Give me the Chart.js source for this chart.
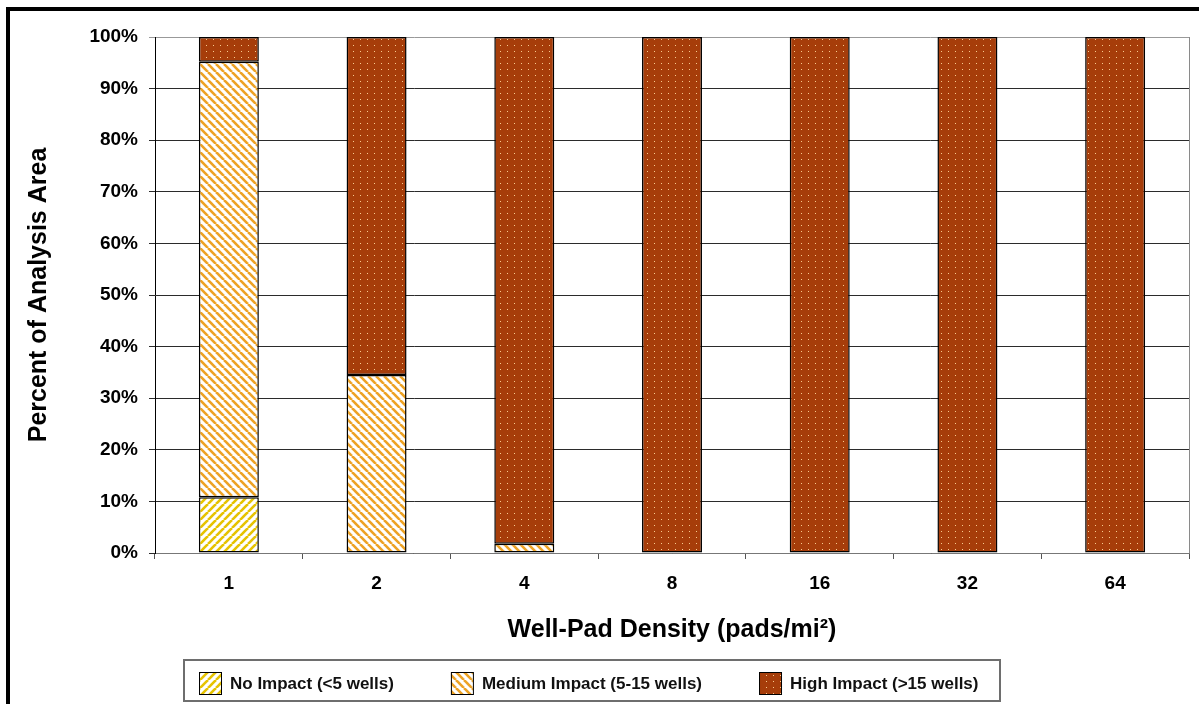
<!DOCTYPE html>
<html>
<head>
<meta charset="utf-8">
<script src="https://cdn.jsdelivr.net/npm/chart.js@4.4.1/dist/chart.umd.min.js"></script>
<style>
    html, body { margin: 0; padding: 0; background: #fff; }
    #wrap { position: relative; width: 1199px; height: 704px; }
</style>
</head>
<body>
<div id="wrap"><canvas id="densityChart"></canvas></div>
<script>
const categories = ['1', '2', '4', '8', '16', '32', '64'];
const noImpact = [10.8, 0, 0, 0, 0, 0, 0];
const mediumImpact = [84.4, 34.5, 1.8, 0, 0, 0, 0];
const highImpact = [4.8, 65.5, 98.2, 100, 100, 100, 100];
const seriesLabels = ['No Impact (<5 wells)', 'Medium Impact (5-15 wells)', 'High Impact (>15 wells)'];
const yTickStep = 10;
const yMax = 100;

const FONT = '"Liberation Sans", Arial, sans-serif';

// build fill patterns on small tiles
const makeStripes = (color, dir) => {
    const c = document.createElement('canvas');
    c.width = 8; c.height = 8;
    const g = c.getContext('2d');
    g.fillStyle = '#fff';
    g.fillRect(0, 0, 8, 8);
    g.strokeStyle = color;
    g.lineWidth = 2.6;
    [-8, 0, 8].forEach(k => {
        g.beginPath();
        if (dir === '/') { g.moveTo(k, 8); g.lineTo(k + 8, 0); }
        else { g.moveTo(k, 0); g.lineTo(k + 8, 8); }
        g.stroke();
    });
    return g.createPattern(c, 'repeat');
};

const makeDots = (bg, dot) => {
    const c = document.createElement('canvas');
    c.width = 7; c.height = 6;
    const g = c.getContext('2d');
    g.fillStyle = bg;
    g.fillRect(0, 0, 7, 6);
    g.fillStyle = dot;
    g.fillRect(3, 3, 1, 1);
    return g.createPattern(c, 'repeat');
};

const noFill = makeStripes('#e6c300', '/');
const medFill = makeStripes('#eda224', '\\');
const highFill = makeDots('#a63d0a', '#f8cc90');

const pageFrame = {
    id: 'pageFrame',
    beforeDraw(chart) {
        const ctx = chart.ctx;
        ctx.save();
        ctx.fillStyle = '#fff';
        ctx.fillRect(0, 0, chart.width, chart.height);
        ctx.restore();
    },
    afterDraw(chart) {
        const ctx = chart.ctx;
        const a = chart.chartArea;
        ctx.save();
        // plot area right edge
        ctx.strokeStyle = '#8a8a8a';
        ctx.lineWidth = 1;
        ctx.beginPath();
        ctx.moveTo(Math.round(a.right) + 0.5, a.top);
        ctx.lineTo(Math.round(a.right) + 0.5, a.bottom);
        ctx.stroke();
        // outer black frame
        ctx.fillStyle = '#000';
        ctx.fillRect(6, 7, chart.width - 6, 4);
        ctx.fillRect(6, 7, 4, chart.height - 7);

        // legend
        ctx.strokeStyle = '#6e6e6e';
        ctx.lineWidth = 2;
        ctx.strokeRect(184, 660, 816, 41);
        ctx.font = 'bold 17px ' + FONT;
        ctx.textBaseline = 'middle';
        let x = 199;
        chart.data.datasets.forEach(ds => {
            ctx.fillStyle = ds.backgroundColor;
            ctx.fillRect(x, 672, 22, 22);
            ctx.strokeStyle = '#000';
            ctx.lineWidth = 1;
            ctx.strokeRect(x + 0.5, 672.5, 22, 22);
            ctx.fillStyle = '#111';
            ctx.fillText(ds.label, x + 31, 684);
            x += 31 + ctx.measureText(ds.label).width + 57;
        });
        ctx.restore();
    }
};

const mkSet = (label, data, fill) => ({
    label: label,
    data: data,
    backgroundColor: fill,
    borderColor: '#000',
    borderWidth: 1.5,
    borderSkipped: false,
    categoryPercentage: 1,
    barPercentage: 0.406
});

new Chart(document.getElementById('densityChart').getContext('2d'), {
    type: 'bar',
    data: {
        labels: categories,
        datasets: [
            mkSet(seriesLabels[0], noImpact, noFill),
            mkSet(seriesLabels[1], mediumImpact, medFill),
            mkSet(seriesLabels[2], highImpact, highFill)
        ]
    },
    options: {
        responsive: true,
        maintainAspectRatio: false,
        animation: false,
        layout: { padding: { left: 16, right: 10, top: 37, bottom: 54 } },
        plugins: {
            legend: { display: false },
            tooltip: { enabled: false }
        },
        scales: {
            x: {
                stacked: true,
                grid: { drawOnChartArea: false, drawTicks: true, tickLength: 6, color: '#555' },
                border: { display: true, color: '#777' },
                ticks: { color: '#000', padding: 13, font: { family: FONT, size: 19, weight: 'bold' } },
                title: {
                    display: true,
                    text: 'Well-Pad Density (pads/mi²)',
                    color: '#000',
                    padding: { top: 4, bottom: 5 },
                    font: { family: FONT, size: 25, weight: 'bold' }
                },
                afterFit: s => { s.height = 97; }
            },
            y: {
                stacked: true,
                min: 0,
                max: yMax,
                grid: {
                    color: ctx => ctx.tick && ctx.tick.value === yMax ? '#999' : '#2b2b2b',
                    tickLength: 6,
                    lineWidth: 1
                },
                border: { display: true, color: '#000' },
                ticks: {
                    stepSize: yTickStep,
                    color: '#000',
                    padding: 11,
                    font: { family: FONT, size: 19, weight: 'bold' },
                    callback: v => v + '%'
                },
                title: {
                    display: true,
                    text: 'Percent of Analysis Area',
                    color: '#000',
                    padding: { top: 8, bottom: 0 },
                    font: { family: FONT, size: 25, weight: 'bold' }
                },
                afterFit: s => { s.width = 139; }
            }
        }
    },
    plugins: [pageFrame]
});
</script>
</body>
</html>
